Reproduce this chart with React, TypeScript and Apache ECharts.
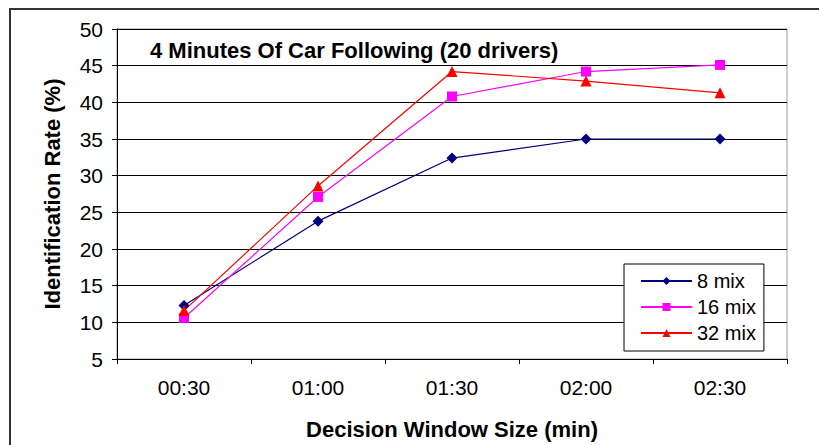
import React, { useEffect, useRef } from "react";
import * as echarts from "echarts";

const categories = ["00:30", "01:00", "01:30", "02:00", "02:30"];
const mix8 = [12.3, 23.8, 32.4, 35.0, 35.0];
const mix16 = [10.6, 27.1, 40.8, 44.2, 45.1];
const mix32 = [11.6, 28.6, 44.2, 42.9, 41.3];
const yTicks = { min: 5, max: 50, interval: 5 };

const FONT = "'Liberation Sans', Arial, sans-serif";

export default function App() {
  const ref = useRef<HTMLDivElement>(null);

  useEffect(() => {
    if (!ref.current) return;
    const chart = echarts.init(ref.current, null, { renderer: "svg" });
    const mk = (name: string, data: number[], color: string, symbol: string, size: number) => ({
      name,
      type: "line",
      data,
      symbol,
      symbolSize: size,
      itemStyle: { color },
      lineStyle: { color, width: 1.2 },
    });
    chart.setOption({
      animation: false,
      backgroundColor: "#fff",
      textStyle: { fontFamily: FONT },
      title: {
        text: "4 Minutes Of Car Following (20 drivers)",
        left: 150,
        top: 39,
        padding: 0,
        textStyle: { fontFamily: FONT, fontSize: 22, fontWeight: "bold", color: "#000" },
      },
      graphic: [
        {
          type: "rect",
          shape: { x: 10, y: 9, width: 1000, height: 1000 },
          style: { fill: "none", stroke: "#333", lineWidth: 2 },
          silent: true,
        },
      ],
      legend: {
        orient: "vertical",
        left: 624,
        top: 264,
        itemWidth: 51,
        itemHeight: 10,
        itemGap: 6,
        padding: [7, 8, 8, 16],
        backgroundColor: "#fff",
        borderColor: "#000",
        borderWidth: 1,
        borderRadius: 0,
        textStyle: { fontFamily: FONT, fontSize: 20, color: "#000" },
        data: ["8 mix", "16 mix", "32 mix"],
      },
      grid: {
        left: 117,
        top: 29,
        right: 32,
        bottom: 84,
        show: true,
        borderColor: "#999",
        borderWidth: 1,
        backgroundColor: "transparent",
      },
      xAxis: {
        type: "category",
        data: categories,
        boundaryGap: true,
        name: "Decision Window Size (min)",
        nameLocation: "middle",
        nameGap: 59,
        nameTextStyle: { fontFamily: FONT, fontSize: 22, fontWeight: "bold", color: "#000" },
        axisLine: { lineStyle: { color: "#000", width: 1 } },
        axisTick: { show: true, length: 5, lineStyle: { color: "#000" } },
        axisLabel: { fontFamily: FONT, fontSize: 21, color: "#000", margin: 18 },
        splitLine: { show: false },
      },
      yAxis: {
        type: "value",
        min: yTicks.min,
        max: yTicks.max,
        interval: yTicks.interval,
        name: "Identification Rate (%)",
        nameLocation: "middle",
        nameGap: 54,
        nameTextStyle: { fontFamily: FONT, fontSize: 22, fontWeight: "bold", color: "#000" },
        axisLine: { show: true, lineStyle: { color: "#000", width: 1 } },
        axisTick: { show: true, length: 5, lineStyle: { color: "#000" } },
        axisLabel: { fontFamily: FONT, fontSize: 21, color: "#000", margin: 14 },
        splitLine: { show: true, lineStyle: { color: "#000", width: 1 } },
      },
      series: [
        mk("8 mix", mix8, "#000080", "diamond", 11),
        mk("16 mix", mix16, "#ff00ff", "rect", 10),
        mk("32 mix", mix32, "#ff0000", "triangle", 11),
      ],
    });
    return () => chart.dispose();
  }, []);

  return (
    <div
      ref={ref}
      style={{ position: "fixed", left: 0, top: 0, width: 819, height: 445 }}
    />
  );
}
